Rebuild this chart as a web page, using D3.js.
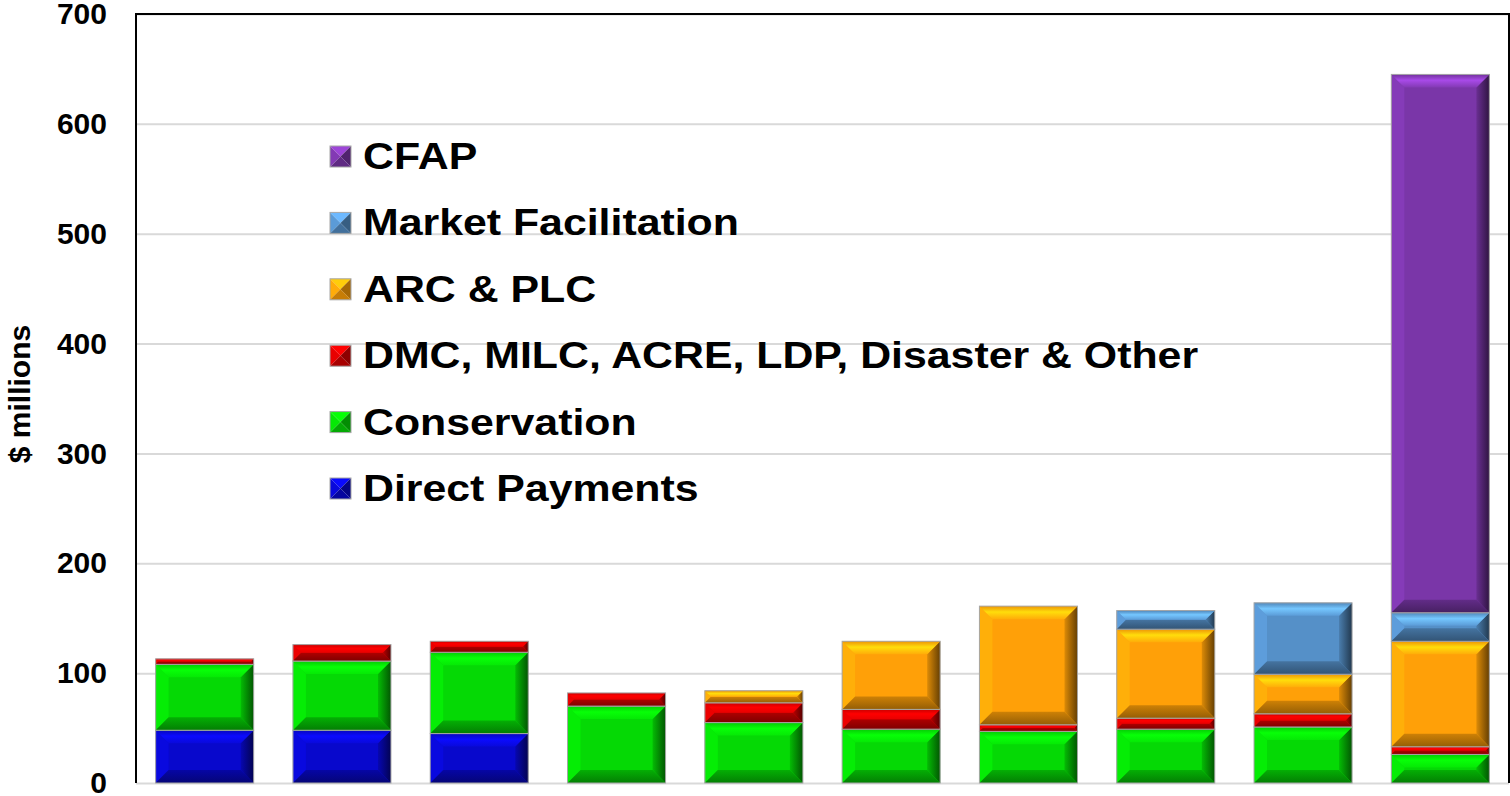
<!DOCTYPE html>
<html>
<head>
<meta charset="utf-8">
<script src="https://cdn.jsdelivr.net/npm/d3@7"></script>
<style>
  body { margin: 0; background: #fff; }
  svg { display: block; font-family: Arial, "Liberation Sans", sans-serif; }
</style>
</head>
<body>
<script>
// Data (years are not labelled on the chart)
const years = ["2011", "2012", "2013", "2014", "2015", "2016", "2017", "2018", "2019", "2020"];
const seriesNames = ["Direct Payments", "Conservation", "DMC, MILC, ACRE, LDP, Disaster & Other", "ARC & PLC", "Market Facilitation", "CFAP"];
const directPayments = [48, 48, 45, 0, 0, 0, 0, 0, 0, 0];
const conservation = [60, 63, 74, 70, 55, 49, 47, 49, 51, 26];
const dmcOther = [5, 15, 10, 12, 18, 18, 6, 10, 12, 7];
const arcPlc = [0, 0, 0, 0, 11, 62, 108, 81, 36, 96];
const marketFacilitation = [0, 0, 0, 0, 0, 0, 0, 17, 65, 26];
const cfap = [0, 0, 0, 0, 0, 0, 0, 0, 0, 490];
const yTicks = [0, 100, 200, 300, 400, 500, 600, 700];
const seriesColors = ["#0808cc", "#05d905", "#d80000", "#ffa008", "#5590c8", "#7a36a8"];

const width = 1510, height = 796;
const margin = { top: 14, right: 1, bottom: 13, left: 136 };
const innerW = width - margin.left - margin.right;
const innerH = height - margin.top - margin.bottom;

const table = years.map((yr, i) => ({
    year: yr,
    [seriesNames[0]]: directPayments[i],
    [seriesNames[1]]: conservation[i],
    [seriesNames[2]]: dmcOther[i],
    [seriesNames[3]]: arcPlc[i],
    [seriesNames[4]]: marketFacilitation[i],
    [seriesNames[5]]: cfap[i]
}));
const stacked = d3.stack().keys(seriesNames)(table);

const svg = d3.select('body')
    .append('svg')
    .attr('width', width)
    .attr('height', height);

const defs = svg.append('defs');

// gradients for the bevel sides
seriesColors.forEach((c, i) => {
    const col = d3.color(c);
    const right = defs.append('linearGradient')
        .attr('id', `right-${i}`)
        .attr('x1', 0).attr('x2', 1).attr('y1', 0).attr('y2', 0);
    right.append('stop').attr('offset', '0%').style('stop-color', col.darker(0.4));
    right.append('stop').attr('offset', '100%').style('stop-color', col.darker(2.6));

    const top = defs.append('linearGradient')
        .attr('id', `top-${i}`)
        .attr('x1', 0).attr('x2', 0).attr('y1', 0).attr('y2', 1);
    top.append('stop').attr('offset', '0%').style('stop-color', col.darker(0.2));
    top.append('stop').attr('offset', '45%').style('stop-color', col.brighter(0.9));
    top.append('stop').attr('offset', '100%').style('stop-color', col.brighter(0.2));

    const bottom = defs.append('linearGradient')
        .attr('id', `bottom-${i}`)
        .attr('x1', 0).attr('x2', 0).attr('y1', 0).attr('y2', 1);
    bottom.append('stop').attr('offset', '0%').style('stop-color', col.darker(0.6));
    bottom.append('stop').attr('offset', '100%').style('stop-color', col.darker(1.5));
});

const x = d3.scaleBand()
    .domain(years)
    .range([0, innerW])
    .paddingInner(0.286)
    .paddingOuter(0.143);

const y = d3.scaleLinear()
    .domain([0, 700])
    .range([innerH, 0]);

const g = svg.append('g')
    .attr('transform', `translate(${margin.left},${margin.top})`);

// Gridlines
g.append('g')
    .call(d3.axisLeft(y).tickValues(yTicks).tickSize(-innerW).tickFormat(''))
    .call(a => a.select('.domain').remove())
    .call(a => a.selectAll('line').attr('stroke', '#d9d9d9').attr('stroke-width', 2));

// Tick labels
g.append('g')
    .call(d3.axisLeft(y).tickValues(yTicks).tickSize(0).tickPadding(29))
    .call(a => a.select('.domain').remove())
    .call(a => a.selectAll('text')
        .attr('font-size', 30)
        .attr('font-weight', 'bold')
        .attr('fill', '#000')
        .attr('font-family', 'Arial, "Liberation Sans", sans-serif'));

// Bars with bevel
const bevel = 13;
stacked.forEach((layer, si) => {
    const col = d3.color(seriesColors[si]);
    const layerG = g.append('g').attr('class', 'layer');
    layer.forEach(d => {
        const v = d[1] - d[0];
        if (v <= 0) return;
        const x0 = x(d.data.year);
        const w = x.bandwidth();
        const y0 = y(d[1]);
        const h = y(d[0]) - y(d[1]);
        const b = Math.min(bevel, h / 2, w / 2);
        const seg = layerG.append('g');
        seg.append('rect')
            .attr('x', x0).attr('y', y0)
            .attr('width', w).attr('height', h)
            .attr('fill', col);
        seg.append('polygon')
            .attr('points', [[x0, y0], [x0 + b, y0 + b], [x0 + b, y0 + h - b], [x0, y0 + h]].join(' '))
            .attr('fill', col.brighter(0.25));
        seg.append('polygon')
            .attr('points', [[x0 + w, y0], [x0 + w, y0 + h], [x0 + w - b, y0 + h - b], [x0 + w - b, y0 + b]].join(' '))
            .attr('fill', `url(#right-${si})`);
        seg.append('polygon')
            .attr('points', [[x0, y0 + h], [x0 + w, y0 + h], [x0 + w - b, y0 + h - b], [x0 + b, y0 + h - b]].join(' '))
            .attr('fill', `url(#bottom-${si})`);
        seg.append('polygon')
            .attr('points', [[x0, y0], [x0 + w, y0], [x0 + w - b, y0 + b], [x0 + b, y0 + b]].join(' '))
            .attr('fill', `url(#top-${si})`);
        seg.append('rect')
            .attr('x', x0).attr('y', y0)
            .attr('width', w).attr('height', h)
            .attr('fill', 'none')
            .attr('stroke', '#a6a6a6')
            .attr('stroke-width', 1);
    });
});

// Frame: left, top, right in black
g.append('path')
    .attr('d', `M0,${innerH}V0H${innerW}V${innerH}`)
    .attr('fill', 'none')
    .attr('stroke', '#000')
    .attr('stroke-width', 2);

// Y axis title
svg.append('text')
    .attr('transform', `translate(30,394) rotate(-90)`)
    .attr('text-anchor', 'middle')
    .attr('font-size', 30)
    .attr('font-weight', 'bold')
    .text('$ millions');

// Legend (top series first)
const legendOrder = seriesNames.map((n, i) => ({ name: n, i })).reverse();
const legend = svg.append('g').attr('transform', 'translate(330,169)');
const rowH = 66.4;
const ms = 21;
legendOrder.forEach((d, k) => {
    const col = d3.color(seriesColors[d.i]);
    const row = legend.append('g').attr('transform', `translate(0,${k * rowH})`);
    const mx = 0, my = -23, cx = mx + ms / 2, cy = my + ms / 2;
    row.append('polygon')
        .attr('points', [[mx, my], [mx + ms, my], [cx, cy]].join(' '))
        .attr('fill', col.brighter(0.7));
    row.append('polygon')
        .attr('points', [[mx, my], [cx, cy], [mx, my + ms]].join(' '))
        .attr('fill', col.brighter(0.2));
    row.append('polygon')
        .attr('points', [[mx + ms, my], [mx + ms, my + ms], [cx, cy]].join(' '))
        .attr('fill', col.darker(1.2));
    row.append('polygon')
        .attr('points', [[mx, my + ms], [mx + ms, my + ms], [cx, cy]].join(' '))
        .attr('fill', col.darker(0.7));
    row.append('rect')
        .attr('x', mx).attr('y', my).attr('width', ms).attr('height', ms)
        .attr('fill', 'none').attr('stroke', '#a6a6a6').attr('stroke-width', 1);
    row.append('text')
        .attr('transform', 'translate(33,0) scale(1.19,1)')
        .attr('font-size', 36)
        .attr('font-weight', 'bold')
        .text(d.name);
});
</script>
</body>
</html>
